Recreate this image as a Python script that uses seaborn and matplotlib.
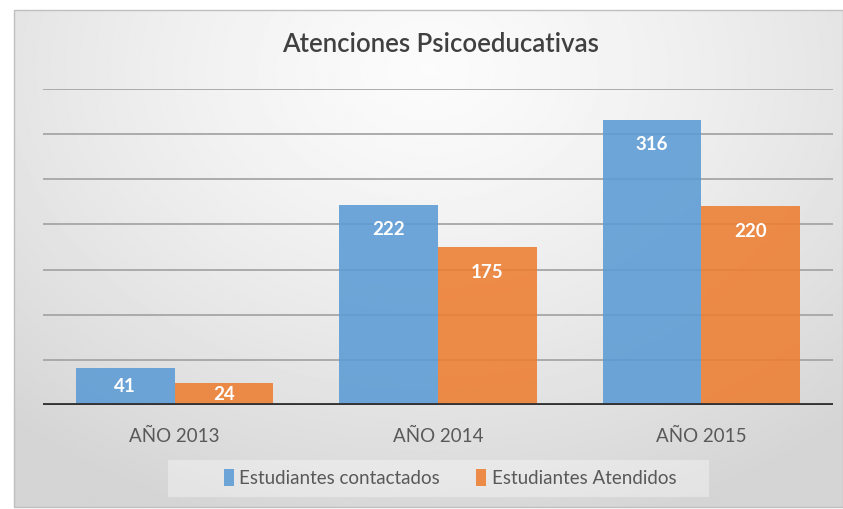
import numpy as np
import pandas as pd
import matplotlib.pyplot as plt
import seaborn as sns
from matplotlib.patches import Rectangle

years = ["AÑO 2013", "AÑO 2014", "AÑO 2015"]
contactados = [41, 222, 316]
atendidos = [24, 175, 220]
series = ["Estudiantes contactados", "Estudiantes Atendidos"]
colors = ["#5B9BD5", "#ED7D31"]

df = pd.DataFrame({
    "year": years * 2,
    "value": contactados + atendidos,
    "serie": [series[0]] * 3 + [series[1]] * 3,
})

plt.rcParams["font.family"] = ["Lato", "DejaVu Sans"]

W, H = 843, 509
fig = plt.figure(figsize=(W / 100, H / 100), dpi=100)

# gradient background panel
bg = fig.add_axes([14 / W, 2 / H, (W - 14) / W, (H - 12) / H])
yy, xx = np.mgrid[0:1:300j, 0:1:500j]
r = np.sqrt(((xx - 0.5) / 0.75) ** 2 + ((yy - 0.12) / 0.95) ** 2)
shade = 0.985 - 0.15 * np.clip(r, 0, 1) ** 1.3
bg.imshow(shade, cmap="gray", vmin=0, vmax=1, aspect="auto", extent=[0, 1, 1, 0])
bg.set_axis_off()
fig.add_artist(Rectangle((14 / W, 2 / H), (W - 14) / W, (H - 12) / H,
                         transform=fig.transFigure, fill=False,
                         edgecolor="#BFBFBF", lw=1))

ax = fig.add_axes([43 / W, (H - 405) / H, 790 / W, 316 / H])
ax.patch.set_alpha(0)
sns.barplot(data=df, x="year", y="value", hue="serie", palette=colors,
            width=0.75, ax=ax, saturation=1, zorder=2)
handles, labels = ax.get_legend_handles_labels()
ax.legend_.remove()
for p in ax.patches:
    p.set_alpha(0.88)
    p.set_edgecolor("none")

ax.set_ylim(0, 350)
ax.set_xlim(-0.5, 2.5)
ax.set_yticks(range(0, 351, 50))
ax.yaxis.grid(True, color="#A6A6A6", lw=1.3, zorder=1)
ax.set_axisbelow(True)
ax.tick_params(axis="y", left=False, labelleft=False)
ax.tick_params(axis="x", bottom=False, labelsize=13.5, labelcolor="#595959", pad=13)
ax.set_xlabel("")
ax.set_ylabel("")
for s in ax.spines.values():
    s.set_visible(False)
ax.axhline(0, color="#333333", lw=3.5, zorder=3)

px_per_unit = 316 / 350
for cont in ax.containers:
    for p in cont:
        h = p.get_height()
        off_px = min(25, h * px_per_unit / 2)
        ax.annotate(f"{int(round(h))}", (p.get_x() + p.get_width() / 2, h),
                    xytext=(0, -off_px * 0.72), textcoords="offset points",
                    ha="center", va="center", color="white",
                    fontweight="bold", fontsize=13.5, zorder=4)

fig.text(440 / W, 1 - 45 / H, "Atenciones Psicoeducativas", ha="center",
         va="center", fontsize=18.5, color="#404040", fontweight="semibold")

fig.add_artist(Rectangle((168 / W, 1 - 497 / H), 541 / W, 37 / H,
                         transform=fig.transFigure, color="white", alpha=0.35,
                         lw=0))
leg = fig.legend(handles, labels, loc="center", bbox_to_anchor=(450 / W, 1 - 478 / H),
                 ncol=2, frameon=False, fontsize=13.5, handlelength=0.55,
                 handleheight=1.0, handletextpad=0.3, columnspacing=1.9)
for t in leg.get_texts():
    t.set_color("#595959")

fig.savefig("out.png", dpi=100)
